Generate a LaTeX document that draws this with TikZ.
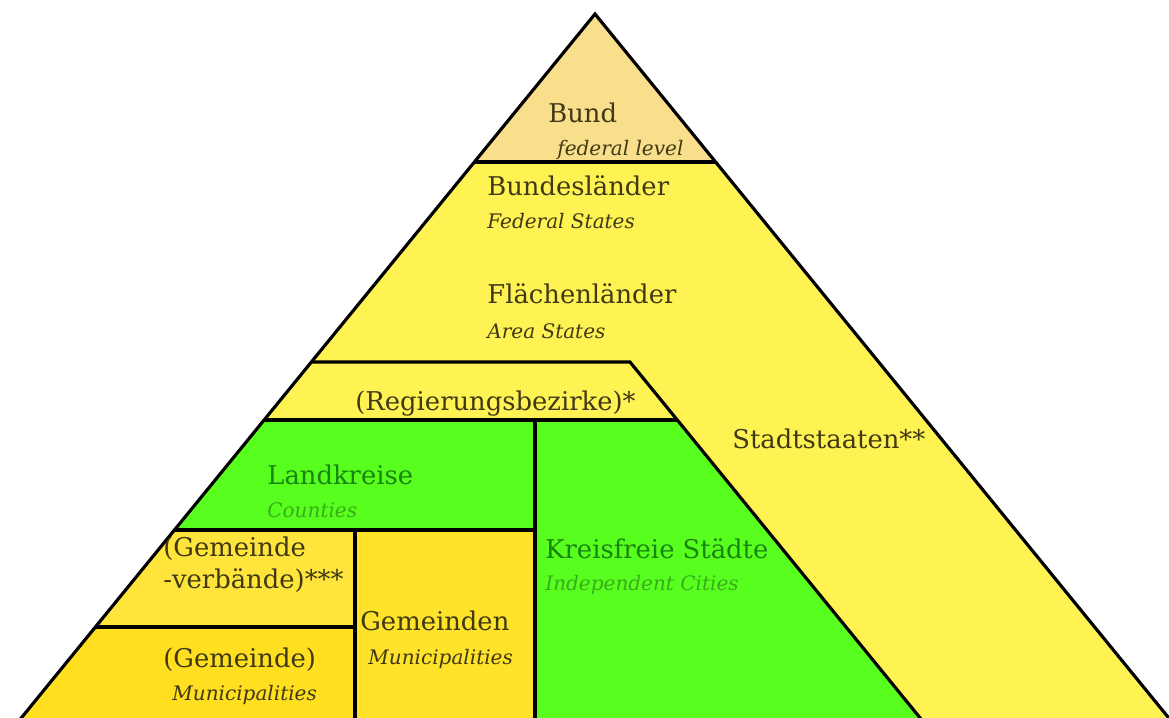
\documentclass[tikz,border=0pt]{standalone}
\usepackage{fontspec}
\setmainfont{DejaVu Serif}
\definecolor{bundcol}{HTML}{F9DE8B}
\definecolor{landcol}{HTML}{FFF354}
\definecolor{greencol}{HTML}{58FF1E}
\definecolor{verbcol}{HTML}{FFE53B}
\definecolor{gemcol}{HTML}{FFDF1F}
\definecolor{gemmid}{HTML}{FFE22A}
\definecolor{txtdark}{HTML}{3F3914}
\definecolor{txtgreen}{HTML}{1A8410}
\definecolor{txtgreenit}{HTML}{38AD1C}
\begin{document}
\begin{tikzpicture}[x=0.02cm,y=-0.02cm,
  edge/.style={line width=1.8pt, line join=miter},
  de/.style={anchor=base west, inner sep=0pt, font=\fontsize{14.7}{17}\selectfont, text=txtdark},
  en/.style={anchor=base west, inner sep=0pt, font=\fontsize{11.4}{13}\selectfont\itshape, text=txtdark},
  deg/.style={de, text=txtgreen},
  eng/.style={en, text=txtgreenit}]
\useasboundingbox (0,0) rectangle (1169,717);
\clip (0,0) rectangle (1169,717);
% key points
\coordinate (apex) at (595,14);
\coordinate (bl) at (19.6,720);
\coordinate (br) at (1170.4,720);
\coordinate (b1l) at (474.4,162);
\coordinate (b1r) at (715.6,162);
\coordinate (r1l) at (311.4,362);
\coordinate (r1r) at (630,362);
\coordinate (r2l) at (264.1,420);
\coordinate (r2r) at (677.3,420);
\coordinate (sb) at (921.8,720);
\coordinate (k1) at (535,420);
\coordinate (k2) at (535,530);
\coordinate (k3) at (535,720);
\coordinate (g1l) at (174.5,530);
\coordinate (g1r) at (355,530);
\coordinate (g2l) at (95.4,627);
\coordinate (g2r) at (355,627);
\coordinate (g3) at (355,720);
% fills
\fill[landcol] (apex) -- (bl) -- (br) -- cycle;
\fill[bundcol] (apex) -- (b1l) -- (b1r) -- cycle;
\fill[greencol] (r2l) -- (r2r) -- (sb) -- (k3) -- (k2) -- (g1l) -- cycle;
\fill[verbcol] (g1l) -- (g1r) -- (g2r) -- (g2l) -- cycle;
\fill[gemcol] (g2l) -- (g2r) -- (g3) -- (bl) -- cycle;
\fill[gemmid] (g1r) -- (k2) -- (k3) -- (g3) -- cycle;
% lines
\draw[edge] (bl) -- (apex) -- (br);
\draw[edge] (b1l) -- (b1r);
\draw[edge] (r1l) -- (r1r) -- (sb);
\draw[edge] (r2l) -- (r2r);
\draw[edge] (k1) -- (k3);
\draw[edge] (g1l) -- (k2);
\draw[edge] (g1r) -- (g3);
\draw[edge] (g2l) -- (g2r);
% texts
\node[de] (bund) at (548,122) {Bund};
\node[en] (bundE) at (557,155) {federal level};
\node[de] (bl1) at (487,195) {Bundesländer};
\node[en] (bl1E) at (487,228) {Federal States};
\node[de] (fl) at (487,303) {Flächenländer};
\node[en] (flE) at (487,338) {Area States};
\node[de] (reg) at (355,410) {(Regierungsbezirke)*};
\node[de] (stadt) at (732,448) {Stadtstaaten**};
\node[deg] (lk) at (267,484) {Landkreise};
\node[eng] (lkE) at (267,517) {Counties};
\node[deg] (kf) at (545,558) {Kreisfreie Städte};
\node[eng] (kfE) at (545,590) {Independent Cities};
\node[de] (gv1) at (163,556) {(Gemeinde};
\node[de] (gv2) at (163,588) {-verbände)***};
\node[de] (gm) at (360,630) {Gemeinden};
\node[en] (gmE) at (368,664) {Municipalities};
\node[de] (ge) at (163,667) {(Gemeinde)};
\node[en] (geE) at (172,700) {Municipalities};
\end{tikzpicture}
\end{document}
